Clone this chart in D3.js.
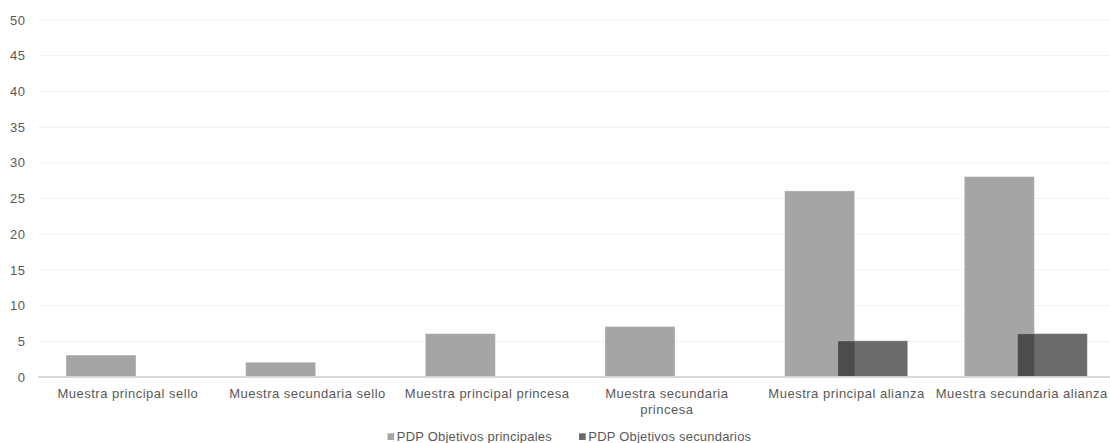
<!DOCTYPE html>
<html><head><meta charset="utf-8">
<script src="https://cdn.jsdelivr.net/npm/d3@7"></script>
<style>
html,body{margin:0;padding:0;background:#fff;}
svg{display:block;font-family:"Liberation Sans",Arial,sans-serif;}
</style></head>
<body>
<svg id="c" width="1110" height="443"></svg>
<script>
const categories = ["Muestra principal sello","Muestra secundaria sello","Muestra principal princesa","Muestra secundaria princesa","Muestra principal alianza","Muestra secundaria alianza"];
const seriesNames = ["PDP Objetivos principales","PDP Objetivos secundarios"];
const principales = [3,2,6,7,26,28];
const secundarios = [0,0,0,0,5,6];
const yTicks = [0,5,10,15,20,25,30,35,40,45,50];

(function(){
const svg = d3.select("#c");
const pLeft = 38, pRight = 1116, pTop = 19.5, pBottom = 376.5;
const FS = "13px", LS = "0.5px";
const x = d3.scaleBand().domain(categories).range([pLeft, pRight]).paddingInner(0).paddingOuter(0);
const y = d3.scaleLinear().domain([0,50]).range([pBottom, pTop]);

// gridlines
const grid = svg.append("g").attr("transform", `translate(${pLeft},0)`)
  .call(d3.axisLeft(y).tickValues(yTicks).tickSize(-(1110-pLeft)).tickFormat(""));
grid.select(".domain").remove();
grid.selectAll("line").attr("stroke","#efefef").attr("stroke-width",1);

// y labels
const ya = svg.append("g").attr("transform", `translate(${pLeft-12.5},0.5)`)
  .call(d3.axisLeft(y).tickValues(yTicks).tickSize(0).tickPadding(0));
ya.select(".domain").remove();
ya.selectAll("text").attr("fill","#595959").attr("font-size",FS).attr("letter-spacing",LS).attr("text-anchor","end");

const bw = x.bandwidth();
const barW = bw*70/179.67, off1 = bw*28/179.67, off2 = bw*81/179.67;

svg.append("g").selectAll("rect").data(categories).join("rect")
  .attr("x", d => x(d)+off1)
  .attr("y", (d,i) => y(principales[i]))
  .attr("width", barW)
  .attr("height", (d,i) => y(0)-y(principales[i]))
  .attr("fill","#a5a5a5")
  .attr("stroke","rgba(255,255,255,0.35)").attr("stroke-width",1);

svg.append("g").selectAll("rect").data(categories.filter((d,i)=>secundarios[i]>0)).join("rect")
  .attr("x", d => x(d)+off2)
  .attr("y", d => y(secundarios[categories.indexOf(d)]))
  .attr("width", barW)
  .attr("height", d => y(0)-y(secundarios[categories.indexOf(d)]))
  .attr("fill","#1c1c1c").attr("fill-opacity",0.65)
  .attr("stroke","rgba(255,255,255,0.3)").attr("stroke-width",1);

// x axis
const xa = svg.append("g").attr("transform", `translate(0,${pBottom})`)
  .call(d3.axisBottom(x).tickSize(0).tickPadding(12.5));
xa.select(".domain").attr("stroke","#d0d0d0").attr("stroke-width",1.3)
  .attr("d", `M${pLeft},0.5H1110`);
xa.selectAll("text").attr("fill","#595959").attr("font-size",FS).attr("letter-spacing",LS)
  .each(function(d){
    const t = d3.select(this);
    if (d.indexOf("secundaria princesa")>=0) {
      const words = d.split(" ");
      const last = words.pop();
      t.text(null);
      t.append("tspan").attr("x",0).attr("dy","0.71em").text(words.join(" "));
      t.append("tspan").attr("x",0).attr("dy","1.22em").text(last);
      t.attr("dy",null);
    }
  });
// keep the last label inside the canvas
xa.selectAll(".tick").each(function(d){
  const tx = x(d) + bw/2;
  const bb = this.querySelector("text").getBBox();
  const rightEdge = tx + bb.x + bb.width;
  if (rightEdge > 1108) {
    d3.select(this).select("text").attr("x", 1108 - rightEdge);
  }
});

// legend
const lg = svg.append("g").attr("font-size",FS).attr("letter-spacing","0.2px");
const legendX = [387.5, 579];
const legendColors = ["#a5a5a5","rgba(28,28,28,0.65)"];
seriesNames.forEach((n,i)=>{
  lg.append("rect").attr("x",legendX[i]).attr("y",433.3).attr("width",6.7).attr("height",6.7).attr("fill",legendColors[i]);
  lg.append("text").attr("x",legendX[i]+9.3).attr("y",441).attr("fill","#595959").text(n);
});
})();
</script>
</body></html>
